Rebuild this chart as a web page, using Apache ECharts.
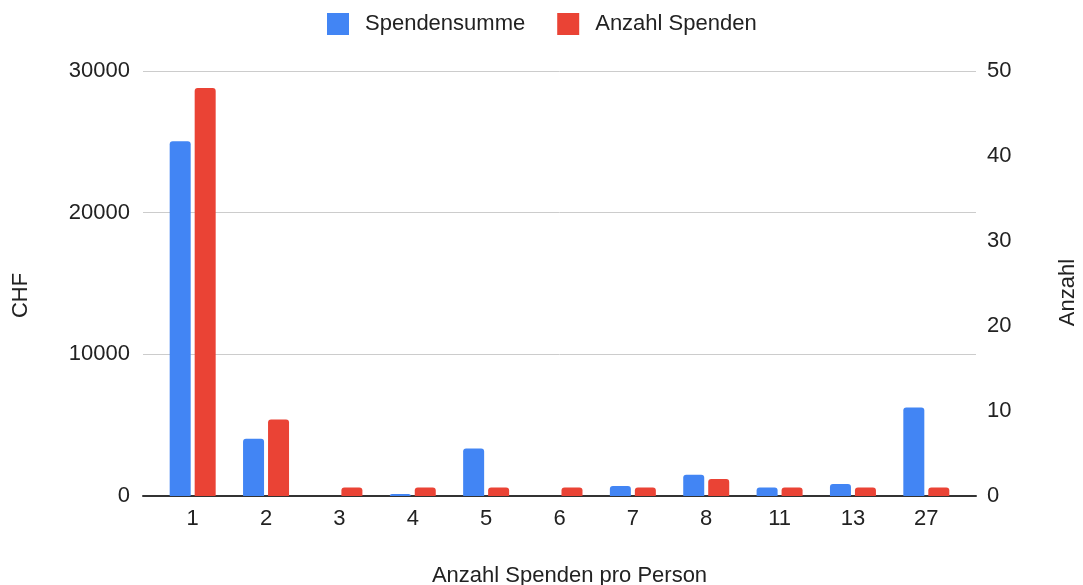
<!DOCTYPE html>
<html>
<head>
<meta charset="utf-8">
<script src="https://cdn.jsdelivr.net/npm/echarts@6/dist/echarts.min.js"></script>
<style>
html,body{margin:0;padding:0;background:#fff;}
#chart{width:1083px;height:585px;}
</style>
</head>
<body>
<div id="chart"></div>
<script>
const categories = ['1','2','3','4','5','6','7','8','11','13','27'];
const spendensumme = [25050, 4050, 0, 150, 3350, 0, 700, 1500, 600, 850, 6250];
const anzahlSpenden = [48, 9, 1, 1, 1, 1, 1, 2, 1, 1, 1];
const leftTicks = {min: 0, max: 30000, interval: 10000};
const rightTicks = {min: 0, max: 50, interval: 10};

const FONT = 'Liberation Sans, Arial, sans-serif';
const TXT = '#222222';
const plain = v => String(v);
const chart = echarts.init(document.getElementById('chart'), null, {renderer: 'canvas'});
chart.setOption({
  backgroundColor: '#ffffff',
  animation: false,
  textStyle: {fontFamily: FONT},
  legend: {
    data: ['Spendensumme', 'Anzahl Spenden'],
    left: 327, top: 13, padding: 0,
    itemWidth: 22, itemHeight: 22, itemGap: 32,
    icon: 'rect',
    textStyle: {fontSize: 22, color: TXT, fontFamily: FONT, padding: [0, 0, 0, 11]}
  },
  grid: [
    {left: 143, right: 107, top: 71, bottom: 89, outerBoundsMode: 'none', containLabel: false},
    {left: 156, right: 120, top: 71, bottom: 89, outerBoundsMode: 'none', containLabel: false}
  ],
  xAxis: [
    {
      type: 'category', gridIndex: 0, data: categories,
      axisLine: {show: true, lineStyle: {color: '#333333', width: 2}},
      axisTick: {show: false}, axisLabel: {show: false}, splitLine: {show: false}
    },
    {
      type: 'category', gridIndex: 1, data: categories,
      axisLine: {show: false}, axisTick: {show: false},
      axisLabel: {fontSize: 22, color: TXT, fontFamily: FONT, margin: 12},
      name: 'Anzahl Spenden pro Person', nameLocation: 'middle', nameGap: 69,
      nameTextStyle: {fontSize: 22, color: TXT, fontFamily: FONT, padding: [0, 0, 0, 20]}
    }
  ],
  yAxis: [
    {
      type: 'value', gridIndex: 0, position: 'left',
      min: leftTicks.min, max: leftTicks.max, interval: leftTicks.interval,
      axisLine: {show: false}, axisTick: {show: false},
      axisLabel: {fontSize: 22, color: TXT, fontFamily: FONT, margin: 13, formatter: plain},
      splitLine: {show: true, lineStyle: {color: '#cccccc', width: 1}},
      name: 'CHF', nameLocation: 'middle', nameGap: 111,
      nameTextStyle: {fontSize: 22, color: TXT, fontFamily: FONT, padding: [0, 24, 0, 0]}
    },
    {
      type: 'value', gridIndex: 0, position: 'right',
      min: rightTicks.min, max: rightTicks.max, interval: rightTicks.interval,
      axisLine: {show: false}, axisTick: {show: false},
      axisLabel: {fontSize: 22, color: TXT, fontFamily: FONT, margin: 11, formatter: plain},
      splitLine: {show: false},
      name: 'Anzahl', nameLocation: 'middle', nameGap: 81,
      nameTextStyle: {fontSize: 22, color: TXT, fontFamily: FONT, padding: [0, 18, 0, 0]}
    },
    {
      type: 'value', gridIndex: 1, position: 'left', show: false,
      min: leftTicks.min, max: leftTicks.max, interval: leftTicks.interval,
      splitLine: {show: false}
    },
    {
      type: 'value', gridIndex: 1, position: 'right', show: false,
      min: rightTicks.min, max: rightTicks.max, interval: rightTicks.interval,
      splitLine: {show: false}
    }
  ],
  series: [
    {
      name: 'Spendensumme', type: 'bar', xAxisIndex: 1, yAxisIndex: 2,
      data: spendensumme, barWidth: 21, barGap: '19%',
      itemStyle: {color: '#4285F4', borderRadius: [3, 3, 0, 0]}
    },
    {
      name: 'Anzahl Spenden', type: 'bar', xAxisIndex: 1, yAxisIndex: 3,
      data: anzahlSpenden, barWidth: 21, barGap: '19%',
      itemStyle: {color: '#EA4335', borderRadius: [3, 3, 0, 0]}
    }
  ]
});
</script>
</body>
</html>
